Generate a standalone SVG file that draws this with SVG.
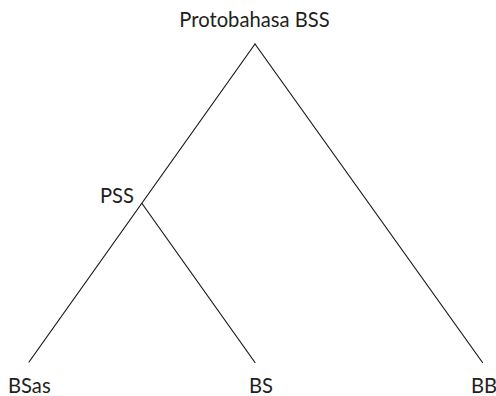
<svg xmlns="http://www.w3.org/2000/svg" width="496" height="396" viewBox="0 0 496 396">
  <style>
    .label { font-family: Lato, "Open Sans", "Liberation Sans", sans-serif; font-size: 20.2px; fill: #231f20; }
    .edge { stroke: #1a1a1a; stroke-width: 1.2; fill: none; stroke-linecap: round; }
  </style>
  <rect width="496" height="396" fill="#ffffff"/>

  <!-- tree branches -->
  <g id="connectors">
    <line class="edge" x1="255" y1="44" x2="29" y2="362"/>
    <line class="edge" x1="255" y1="44" x2="482.5" y2="362.5"/>
    <line class="edge" x1="142" y1="203.5" x2="255" y2="362.5"/>
  </g>

  <g id="node-root">
    <text class="label" x="254.5" y="27" text-anchor="middle">Protobahasa BSS</text>
  </g>
  <g id="node-pss">
    <text class="label" x="100" y="202.7">PSS</text>
  </g>
  <g id="node-bsas">
    <text class="label" x="8" y="393.3">BSas</text>
  </g>
  <g id="node-bs">
    <text class="label" x="249" y="393.3">BS</text>
  </g>
  <g id="node-bb">
    <text class="label" x="471" y="393.3">BB</text>
  </g>
</svg>
